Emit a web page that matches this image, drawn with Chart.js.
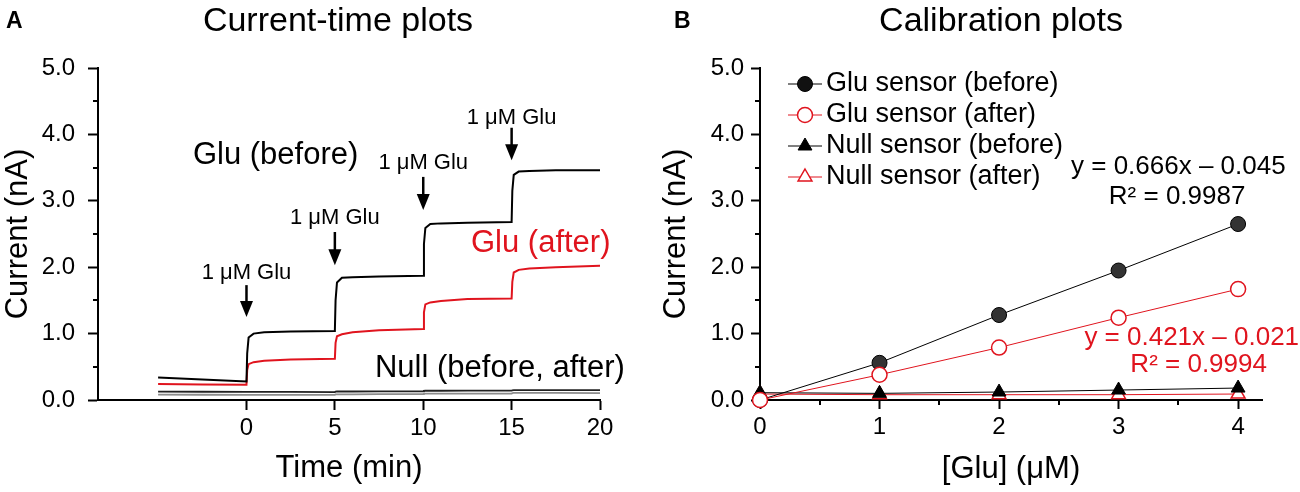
<!DOCTYPE html>
<html>
<head>
<meta charset="utf-8">
<script src="https://cdn.jsdelivr.net/npm/chart.js@4.4.1/dist/chart.umd.min.js"></script>
<style>
  html, body { margin: 0; padding: 0; background: #fff; }
  .wrap { display: flex; width: 1300px; height: 492px; }
  .panel { position: relative; width: 650px; height: 492px; }
</style>
</head>
<body>
<div class="wrap">
  <div class="panel"><canvas id="timeChart"></canvas></div>
  <div class="panel"><canvas id="calChart"></canvas></div>
</div>
<script>
// Panel A - amperometric traces, time in min, current in nA
const timeMin = [-5, -2.5, 0, 0.04, 0.12, 0.4, 1, 2.5, 5, 5.04, 5.12, 5.4, 6, 7.5, 10, 10.04, 10.12, 10.4, 11, 12.5, 15, 15.04, 15.12, 15.4, 16, 17.5, 20];
const gluBeforeTrace = [0.34, 0.31, 0.28, 0.70, 0.94, 1.00, 1.02, 1.03, 1.04, 1.50, 1.77, 1.84, 1.85, 1.86, 1.87, 2.35, 2.59, 2.65, 2.66, 2.67, 2.68, 3.15, 3.39, 3.44, 3.45, 3.46, 3.46];
const gluAfterTrace = [0.24, 0.235, 0.23, 0.45, 0.54, 0.57, 0.59, 0.61, 0.62, 0.86, 0.96, 0.99, 1.02, 1.05, 1.07, 1.32, 1.44, 1.47, 1.49, 1.52, 1.53, 1.78, 1.92, 1.96, 1.98, 2.00, 2.02];
const nullBeforeTrace = [0.125, 0.124, 0.122, 0.122, 0.122, 0.122, 0.122, 0.121, 0.12, 0.126, 0.128, 0.128, 0.128, 0.129, 0.13, 0.137, 0.139, 0.139, 0.139, 0.14, 0.14, 0.147, 0.15, 0.15, 0.15, 0.15, 0.149];
const nullAfterTrace = [0.08, 0.079, 0.078, 0.078, 0.078, 0.078, 0.078, 0.078, 0.078, 0.084, 0.086, 0.086, 0.086, 0.087, 0.088, 0.094, 0.096, 0.096, 0.096, 0.097, 0.098, 0.104, 0.106, 0.106, 0.106, 0.106, 0.105];

// Panel B - calibration, [Glu] in uM, current in nA
const gluConc = [0, 1, 2, 3, 4];
const gluSensorBefore = [0.0, 0.56, 1.28, 1.95, 2.65];
const gluSensorAfter = [0.0, 0.38, 0.79, 1.24, 1.67];
const nullSensorBefore = [0.11, 0.10, 0.12, 0.15, 0.18];
const nullSensorAfter = [0.09, 0.08, 0.08, 0.08, 0.09];

// tick labels
const currentTicks = [0, 1, 2, 3, 4, 5];
const timeTicks = [0, 5, 10, 15, 20];
const concTicks = [0, 1, 2, 3, 4];

const FONT = "'Liberation Sans', Arial, Helvetica, sans-serif";
const RED = '#e0141e';
Chart.defaults.font.family = FONT;
Chart.defaults.color = '#000';

const toPts = (xs, ys) => xs.map((x, i) => ({ x: x, y: ys[i] }));

function marker(ctx, style, r, x, y) {
    ctx.beginPath();
    if (style === 'triangle') {
        ctx.moveTo(x, y - r);
        ctx.lineTo(x + r * 0.866, y + r / 2);
        ctx.lineTo(x - r * 0.866, y + r / 2);
        ctx.closePath();
    } else {
        ctx.arc(x, y, r, 0, Math.PI * 2);
    }
    ctx.fill();
    ctx.stroke();
}

// minor ticks, titles, annotations, arrows and the inset legend
const extras = {
    id: 'extras',
    afterDraw(chart, args, opts) {
        const ctx = chart.ctx;
        const area = chart.chartArea;
        const xs = chart.scales.x, ys = chart.scales.y;
        ctx.save();

        // minor ticks
        ctx.strokeStyle = '#000';
        ctx.lineWidth = 2;
        (opts.minor || []).forEach(m => {
            const sc = chart.scales[m.axis];
            for (let v = sc.min; v <= sc.max + 1e-9; v += m.step) {
                if (Math.abs(v - Math.round(v)) < 1e-6) continue;
                const p = Math.round(sc.getPixelForValue(v));
                ctx.beginPath();
                if (m.axis === 'y') {
                    ctx.moveTo(area.left, p);
                    ctx.lineTo(area.left - m.len, p);
                } else {
                    ctx.moveTo(p, area.bottom);
                    ctx.lineTo(p, area.bottom + m.len);
                }
                ctx.stroke();
            }
        });

        // panel title and letter
        ctx.fillStyle = '#000';
        ctx.textBaseline = 'alphabetic';
        if (opts.title) {
            ctx.font = '34px ' + FONT;
            ctx.textAlign = 'center';
            ctx.fillText(opts.title.text, opts.title.x, opts.title.y);
        }
        if (opts.letter) {
            ctx.font = 'bold 23px ' + FONT;
            ctx.textAlign = 'left';
            ctx.fillText(opts.letter.text, opts.letter.x, opts.letter.y);
        }

        // text annotations in data units
        ctx.textBaseline = 'middle';
        (opts.texts || []).forEach(t => {
            ctx.font = t.size + 'px ' + FONT;
            ctx.fillStyle = t.color || '#000';
            ctx.textAlign = t.align || 'center';
            ctx.fillText(t.text, xs.getPixelForValue(t.x), ys.getPixelForValue(t.y));
        });

        // addition arrows
        ctx.fillStyle = '#000';
        ctx.strokeStyle = '#000';
        (opts.arrows || []).forEach(a => {
            const x = xs.getPixelForValue(a.x);
            const y0 = ys.getPixelForValue(a.top);
            const y1 = ys.getPixelForValue(a.tip);
            ctx.lineWidth = 2.5;
            ctx.beginPath();
            ctx.moveTo(x, y0);
            ctx.lineTo(x, y1 - 12);
            ctx.stroke();
            ctx.beginPath();
            ctx.moveTo(x - 6.5, y1 - 16);
            ctx.lineTo(x + 6.5, y1 - 16);
            ctx.lineTo(x, y1);
            ctx.closePath();
            ctx.fill();
        });

        // legend with line + marker symbols
        if (opts.legend) {
            const L = opts.legend;
            chart.data.datasets.forEach((ds, i) => {
                const y = L.top + i * L.step;
                const x0 = area.left + L.left;
                ctx.strokeStyle = ds.borderColor;
                ctx.lineWidth = ds.borderWidth;
                ctx.beginPath();
                ctx.moveTo(x0, y);
                ctx.lineTo(x0 + L.lineLen, y);
                ctx.stroke();
                ctx.fillStyle = ds.pointStyle === 'circle' && ds.pointBackgroundColor !== '#fff' ? '#111' : ds.pointBackgroundColor;
                ctx.strokeStyle = ds.pointBorderColor;
                ctx.lineWidth = ds.pointBorderWidth;
                marker(ctx, ds.pointStyle, ds.pointRadius, x0 + L.lineLen / 2, y);
                ctx.fillStyle = '#000';
                ctx.font = L.size + 'px ' + FONT;
                ctx.textAlign = 'left';
                ctx.textBaseline = 'middle';
                ctx.fillText(ds.label, x0 + L.textGap, y);
            });
        }
        ctx.restore();
    }
};

function axis(opts) {
    return {
        type: 'linear',
        min: opts.min,
        max: opts.max,
        afterBuildTicks: s => { s.ticks = opts.ticks.map(v => ({ value: v })); },
        afterFit: s => { if (opts.width) s.width = opts.width; if (opts.height) s.height = opts.height; },
        ticks: {
            autoSkip: false,
            maxRotation: 0,
            padding: opts.pad,
            font: { size: 24 },
            color: '#000',
            callback: opts.fmt
        },
        grid: {
            drawOnChartArea: false,
            drawTicks: true,
            tickLength: opts.tickLen,
            tickWidth: 2,
            tickColor: '#000'
        },
        border: { display: true, color: '#000', width: 2 },
        title: {
            display: true,
            text: opts.title,
            font: { size: 31 },
            color: '#000',
            padding: opts.titlePad
        }
    };
}

new Chart(document.getElementById('timeChart'), {
    type: 'line',
    data: {
        datasets: [
            { label: 'Glu (before)', data: toPts(timeMin, gluBeforeTrace), borderColor: '#000', borderWidth: 2 },
            { label: 'Glu (after)', data: toPts(timeMin, gluAfterTrace), borderColor: RED, borderWidth: 2 },
            { label: 'Null (before)', data: toPts(timeMin, nullBeforeTrace), borderColor: '#222', borderWidth: 1.8 },
            { label: 'Null (after)', data: toPts(timeMin, nullAfterTrace), borderColor: '#8c8c8c', borderWidth: 1.8 }
        ]
    },
    options: {
        animation: false,
        responsive: true,
        maintainAspectRatio: false,
        events: [],
        elements: { point: { radius: 0 }, line: { tension: 0 } },
        layout: { padding: { left: 0, top: 68, right: 50, bottom: 0 } },
        plugins: {
            legend: { display: false },
            tooltip: { enabled: false },
            extras: {
                minor: [{ axis: 'y', step: 0.5, len: 5 }],
                title: { text: 'Current-time plots', x: 338, y: 31 },
                letter: { text: 'A', x: 6, y: 28 },
                texts: [
                    { text: 'Glu (before)', x: -3.03, y: 3.69, size: 31, align: 'left' },
                    { text: 'Glu (after)', x: 12.7, y: 2.36, size: 31, align: 'left', color: RED },
                    { text: 'Null (before, after)', x: 7.27, y: 0.48, size: 31, align: 'left' },
                    { text: '1 μM Glu', x: 0, y: 1.91, size: 22 },
                    { text: '1 μM Glu', x: 5, y: 2.74, size: 22 },
                    { text: '1 μM Glu', x: 10, y: 3.57, size: 22 },
                    { text: '1 μM Glu', x: 15, y: 4.25, size: 22 }
                ],
                arrows: [
                    { x: 0, top: 1.73, tip: 1.25 },
                    { x: 5, top: 2.53, tip: 2.03 },
                    { x: 10, top: 3.36, tip: 2.86 },
                    { x: 15, top: 4.10, tip: 3.61 }
                ]
            }
        },
        scales: {
            x: axis({ min: -8.4, max: 20, ticks: timeTicks, fmt: v => String(v), pad: 4, tickLen: 10,
                      title: 'Time (min)', titlePad: { top: 0, bottom: 5 }, height: 92 }),
            y: axis({ min: 0, max: 5, ticks: currentTicks, fmt: v => v.toFixed(1), pad: 13, tickLen: 10,
                      title: 'Current (nA)', titlePad: { top: 0, bottom: 0 }, width: 98 })
        }
    },
    plugins: [extras]
});

new Chart(document.getElementById('calChart'), {
    type: 'line',
    data: {
        datasets: [
            { label: 'Glu sensor (before)', data: toPts(gluConc, gluSensorBefore), borderColor: '#000', borderWidth: 1,
              pointStyle: 'circle', pointRadius: 7.5, pointBackgroundColor: '#333', pointBorderColor: '#000', pointBorderWidth: 1, order: 2 },
            { label: 'Glu sensor (after)', data: toPts(gluConc, gluSensorAfter), borderColor: RED, borderWidth: 1,
              pointStyle: 'circle', pointRadius: 7.5, pointBackgroundColor: '#fff', pointBorderColor: RED, pointBorderWidth: 1.5, order: 0 },
            { label: 'Null sensor (before)', data: toPts(gluConc, nullSensorBefore), borderColor: '#000', borderWidth: 1,
              pointStyle: 'triangle', pointRadius: 8, pointBackgroundColor: '#000', pointBorderColor: '#000', pointBorderWidth: 1, order: 1 },
            { label: 'Null sensor (after)', data: toPts(gluConc, nullSensorAfter), borderColor: RED, borderWidth: 1,
              pointStyle: 'triangle', pointRadius: 8, pointBackgroundColor: '#fff', pointBorderColor: RED, pointBorderWidth: 1.5, order: 3 }
        ]
    },
    options: {
        animation: false,
        responsive: true,
        maintainAspectRatio: false,
        events: [],
        clip: false,
        elements: { line: { tension: 0 } },
        layout: { padding: { left: 0, top: 68, right: 38, bottom: 0 } },
        plugins: {
            legend: { display: false },
            tooltip: { enabled: false },
            extras: {
                minor: [{ axis: 'y', step: 0.5, len: 5 }, { axis: 'x', step: 0.5, len: 5 }],
                title: { text: 'Calibration plots', x: 351, y: 31 },
                letter: { text: 'B', x: 24, y: 28 },
                texts: [
                    { text: 'y = 0.666x – 0.045', x: 3.5, y: 3.51, size: 26 },
                    { text: 'R² = 0.9987', x: 3.49, y: 3.06, size: 26 },
                    { text: 'y = 0.421x – 0.021', x: 4.51, y: 0.93, size: 26, align: 'right', color: RED },
                    { text: 'R² = 0.9994', x: 3.67, y: 0.53, size: 26, color: RED }
                ],
                legend: { left: 28, top: 84, step: 31, lineLen: 34, textGap: 38, size: 27 }
            }
        },
        scales: {
            x: axis({ min: 0, max: 4.2, ticks: concTicks, fmt: v => String(v), pad: 4, tickLen: 9,
                      title: '[Glu] (μM)', titlePad: { top: 0, bottom: 4 }, height: 92 }),
            y: axis({ min: 0, max: 5, ticks: currentTicks, fmt: v => v.toFixed(1), pad: 7, tickLen: 9,
                      title: 'Current (nA)', titlePad: { top: 8, bottom: 0 }, width: 110 })
        }
    },
    plugins: [extras]
});
</script>
</body>
</html>
